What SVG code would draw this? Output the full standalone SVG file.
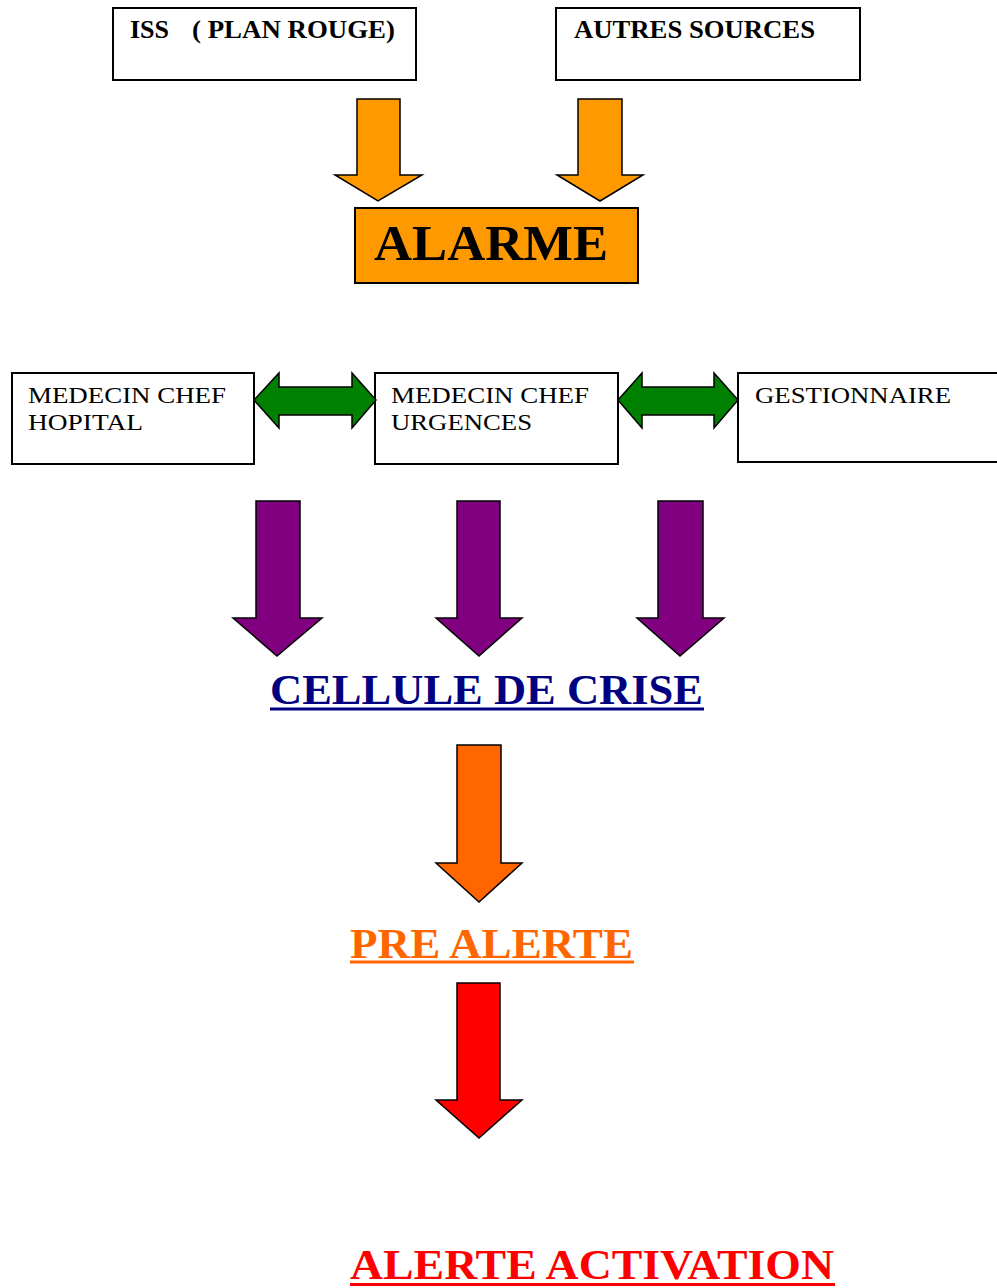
<svg xmlns="http://www.w3.org/2000/svg" width="997" height="1288" viewBox="0 0 997 1288">
<style>
.box{fill:#fff;stroke:#000;stroke-width:2}
.arr{stroke:#000;stroke-width:1.5;stroke-linejoin:miter}
.tb{font-family:"Liberation Serif","Times New Roman",serif;font-weight:bold;fill:#000}
.tr{font-family:"Liberation Serif","Times New Roman",serif;fill:#000;font-size:24px}
.big{font-family:"Liberation Serif","Times New Roman",serif;font-weight:bold;font-size:43px}
</style>
<rect width="997" height="1288" fill="#fff"/>
<g id="iss">
<rect class="box" x="113" y="8" width="303" height="72"/>
<text class="tb" font-size="25" x="130" y="38" textLength="39" lengthAdjust="spacingAndGlyphs">ISS</text>
<text class="tb" font-size="25" x="192" y="38" textLength="203" lengthAdjust="spacingAndGlyphs">( PLAN ROUGE)</text>
</g>
<g id="autres">
<rect class="box" x="556" y="8" width="304" height="72"/>
<text class="tb" font-size="25" x="574" y="38" textLength="241" lengthAdjust="spacingAndGlyphs">AUTRES SOURCES</text>
</g>
<g id="alarme">
<rect x="355" y="208" width="283" height="75" fill="#FF9900" stroke="#000" stroke-width="2"/>
<text class="tb" font-size="50" x="374" y="260" textLength="234" lengthAdjust="spacingAndGlyphs">ALARME</text>
</g>
<g id="mch">
<rect class="box" x="12" y="373" width="242" height="91"/>
<text class="tr" x="28" y="403" textLength="198" lengthAdjust="spacingAndGlyphs">MEDECIN CHEF</text>
<text class="tr" x="28" y="430" textLength="115" lengthAdjust="spacingAndGlyphs">HOPITAL</text>
</g>
<g id="mcu">
<rect class="box" x="375" y="373" width="243" height="91"/>
<text class="tr" x="391" y="403" textLength="198" lengthAdjust="spacingAndGlyphs">MEDECIN CHEF</text>
<text class="tr" x="391" y="430" textLength="141" lengthAdjust="spacingAndGlyphs">URGENCES</text>
</g>
<g id="gest">
<rect class="box" x="738" y="373" width="270" height="89"/>
<text class="tr" x="755" y="403" textLength="196" lengthAdjust="spacingAndGlyphs">GESTIONNAIRE</text>
</g>
<g id="cellule">
<text class="big" fill="#000080" x="270" y="704" textLength="433" lengthAdjust="spacingAndGlyphs">CELLULE DE CRISE</text>
<rect x="270" y="707.5" width="434" height="3" fill="#000080"/>
</g>
<g id="prealerte">
<text class="big" fill="#FF6600" x="350" y="958" textLength="283" lengthAdjust="spacingAndGlyphs">PRE ALERTE</text>
<rect x="350" y="960.5" width="284" height="3" fill="#FF6600"/>
</g>
<g id="alerte">
<text class="big" font-size="41" fill="#FF0000" x="350" y="1279" textLength="484" lengthAdjust="spacingAndGlyphs">ALERTE ACTIVATION</text>
<rect x="350" y="1283" width="485" height="3" fill="#FF0000"/>
</g>
<g id="connectors">
<polygon class="arr" fill="#FF9900" points="357,99 400,99 400,175 422,175 378,201 335,175 357,175"/>
<polygon class="arr" fill="#FF9900" points="578,99 622,99 622,175 643,175 600,201 557,175 578,175"/>
<polygon class="arr" fill="#008000" points="254,400 279,373 279,387 352,387 352,373 376,400 352,428 352,415 279,415 279,428"/>
<polygon class="arr" fill="#008000" points="618,400 642,373 642,387 714,387 714,373 738,400 714,428 714,415 642,415 642,428"/>
<polygon class="arr" fill="#800080" points="256,501 300,501 300,618 322,618 277,656 233,618 256,618"/>
<polygon class="arr" fill="#800080" points="457,501 500,501 500,618 522,618 479,656 436,618 457,618"/>
<polygon class="arr" fill="#800080" points="658,501 703,501 703,618 724,618 680,656 637,618 658,618"/>
<polygon class="arr" fill="#FF6600" points="457,745 501,745 501,863 522,863 479,902 436,863 457,863"/>
<polygon class="arr" fill="#FF0000" points="457,983 500,983 500,1100 522,1100 479,1138 436,1100 457,1100"/>
</g>
</svg>
